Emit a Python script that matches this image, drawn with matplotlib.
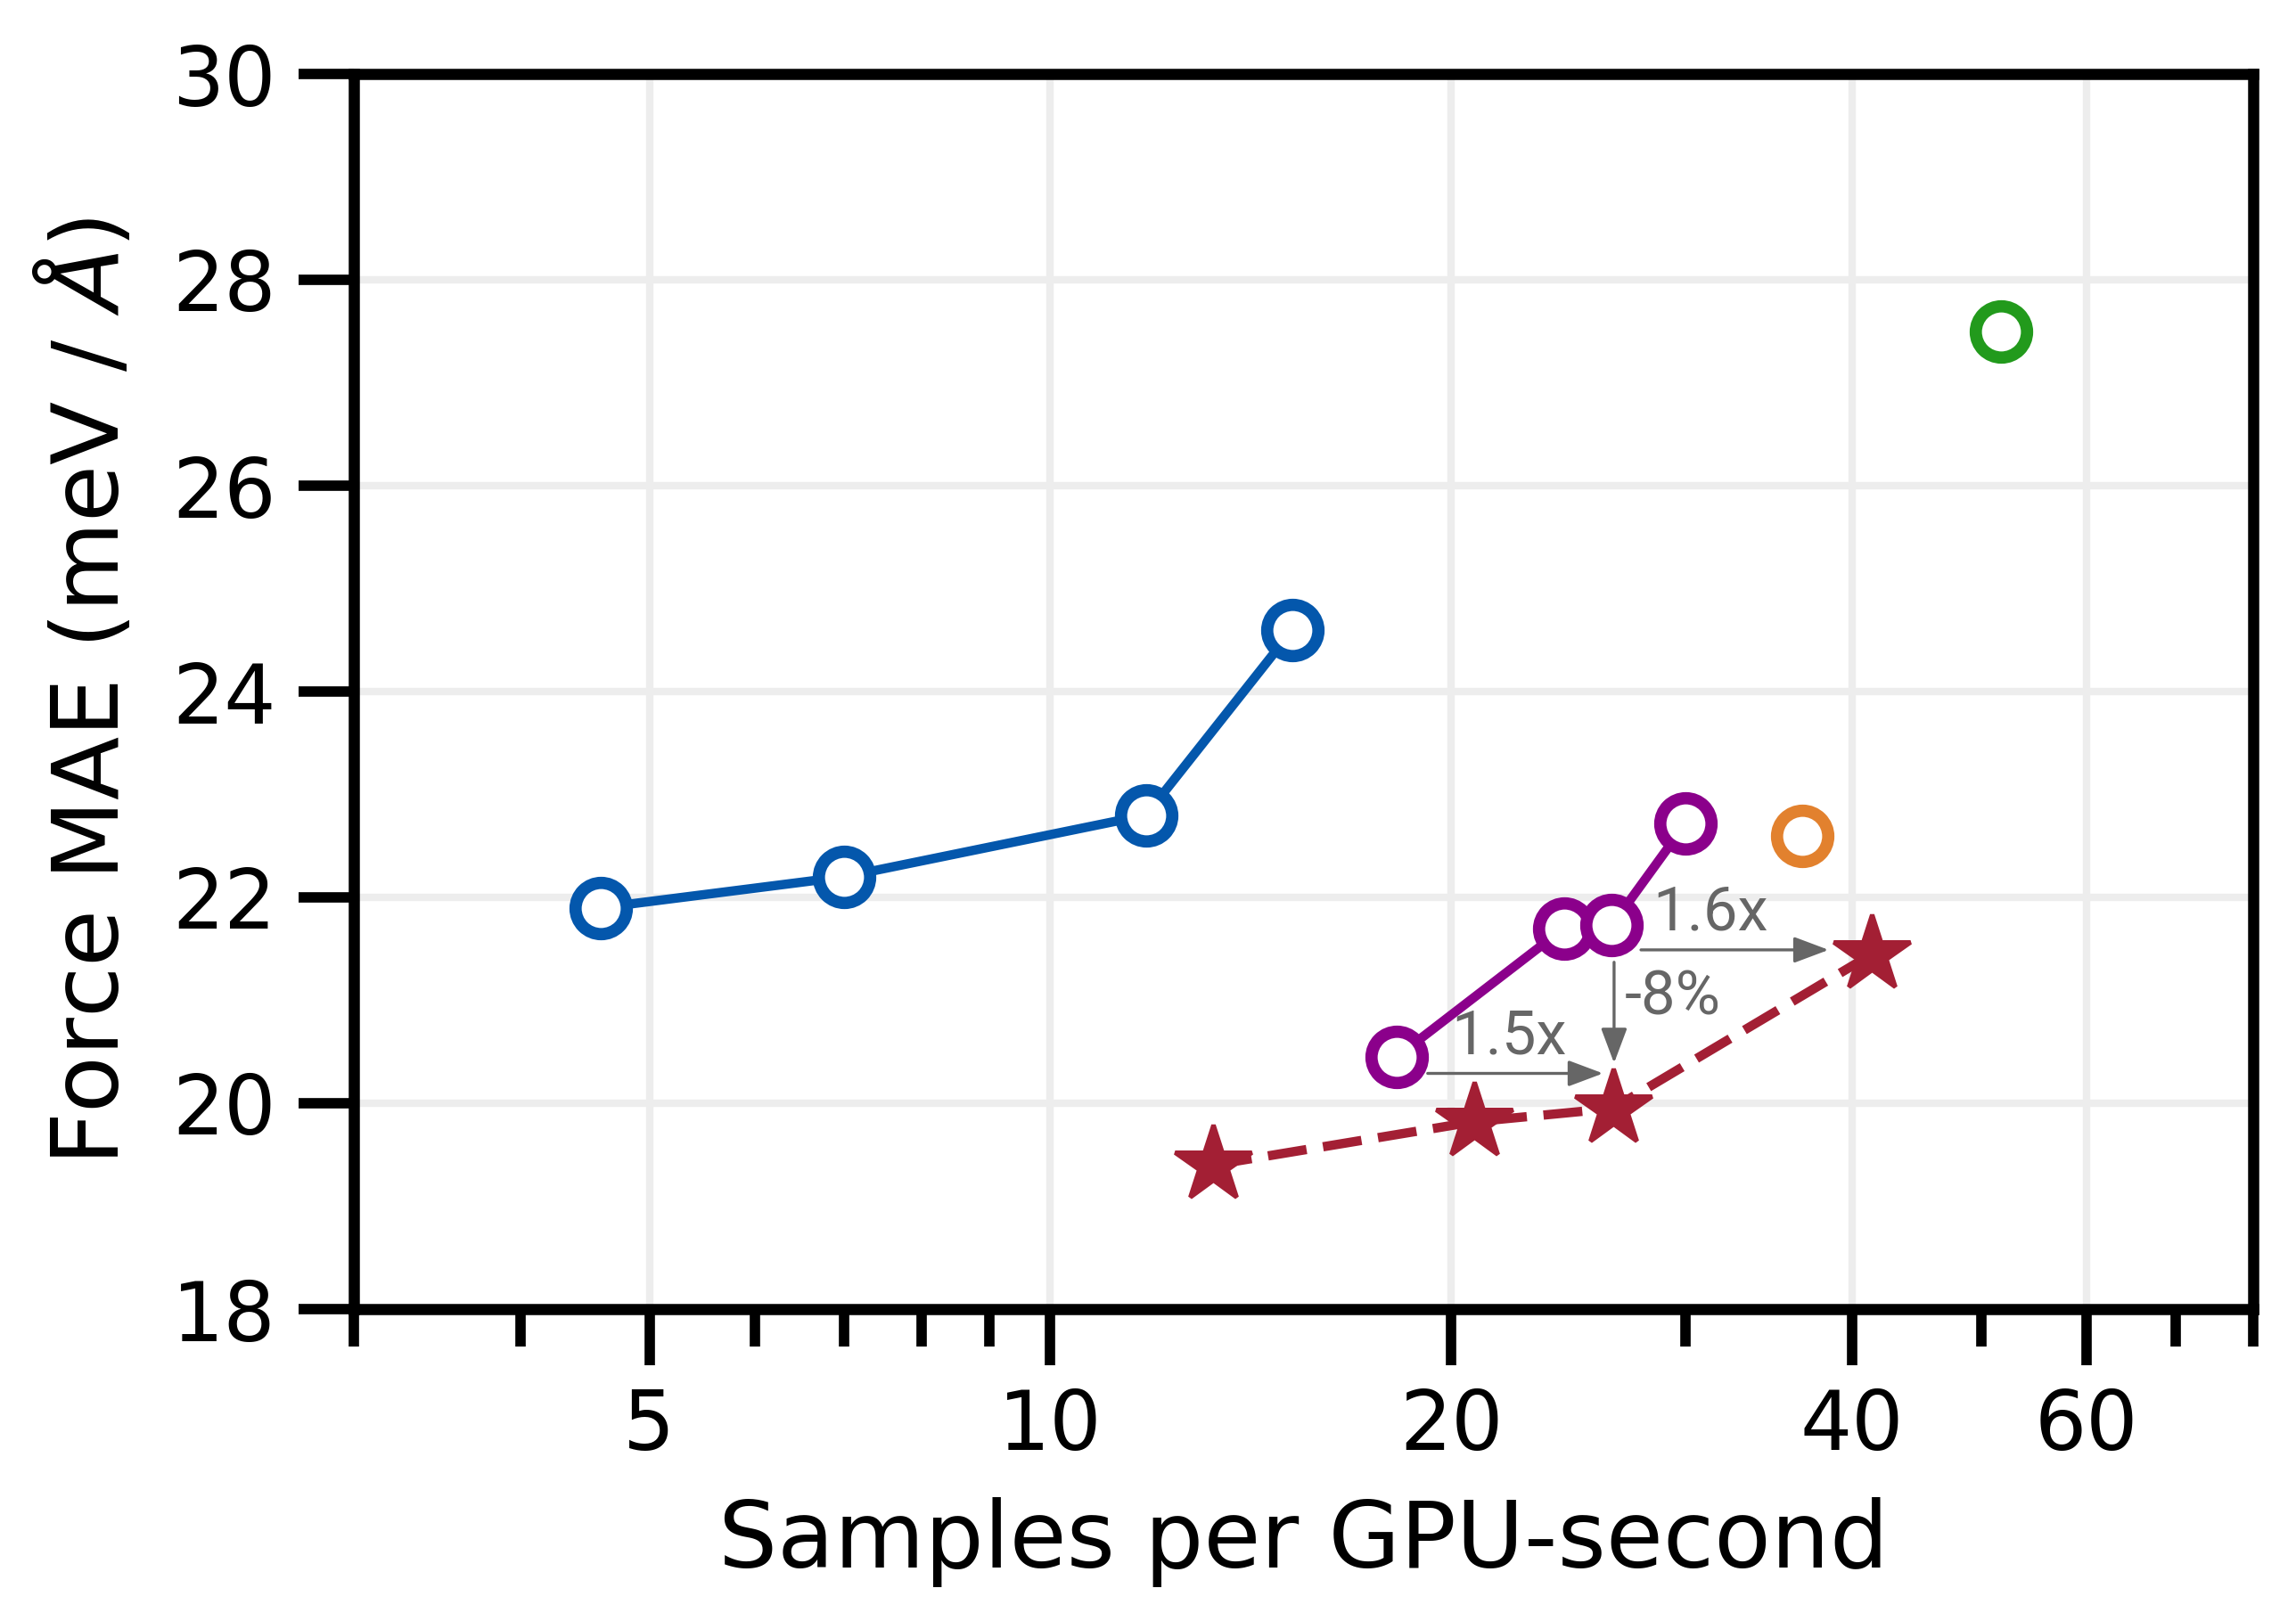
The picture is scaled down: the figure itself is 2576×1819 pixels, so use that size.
import matplotlib.pyplot as plt
from matplotlib.ticker import FixedLocator, NullFormatter

# data (x: samples per GPU-second, y: force MAE)
blue_x = [4.6, 7.0, 11.8, 15.2]
blue_y = [21.9, 22.2, 22.8, 24.6]
purple_x = [18.2, 24.3, 26.4, 30.0]
purple_y = [20.45, 21.7, 21.73, 22.72]
orange_x = [36.7]
orange_y = [22.6]
green_x = [51.7]
green_y = [27.5]
star_x = [13.25, 20.8, 26.45, 41.4]
star_y = [19.4, 19.82, 19.95, 21.45]

x_major = [5, 10, 20, 40, 60]
x_minor = [3, 4, 6, 7, 8, 9, 30, 50, 70, 80]
y_ticks = [18, 20, 22, 24, 26, 28, 30]

fig = plt.figure(figsize=(2576 / 300, 1819 / 300), dpi=300)
ax = fig.add_axes([397 / 2576, 1 - 1469 / 1819, (2528 - 397) / 2576, (1469 - 83) / 1819])

circ = dict(marker='o', ms=13.8, mew=3.3, mfc='white')
ax.plot(blue_x, blue_y, '-', color='#0457ac', lw=2.5, **circ, zorder=3)
ax.plot(purple_x, purple_y, '-', color='#8b008b', lw=2.5, **circ, zorder=3)
ax.plot(orange_x, orange_y, ls='none', color='#e2812e', **circ, zorder=3)
ax.plot(green_x, green_y, ls='none', color='#229a1c', **circ, zorder=3)
ax.plot(star_x, star_y, '--', color='#a31f34', lw=2.5, dashes=(4.2, 1.8),
        marker='*', ms=21.5, mew=1.2, zorder=3)

# speed-up / error annotations
grey = '#666666'
arrow = dict(arrowstyle='-|>,head_length=0.4,head_width=0.15', color=grey,
             lw=0.8, shrinkA=0, shrinkB=0, mutation_scale=20)
ax.annotate('', xy=(26.0, 20.29), xytext=(19.2, 20.29), arrowprops=arrow, zorder=4)
ax.annotate('', xy=(38.4, 21.49), xytext=(27.76, 21.49), arrowprops=arrow, zorder=4)
ax.annotate('', xy=(26.5, 20.39), xytext=(26.5, 21.37), arrowprops=arrow, zorder=4)
tfont = dict(family='Roboto', fontsize=16.5, color=grey)
ax.text(22.1, 20.36, '1.5x', ha='center', va='bottom', **tfont)
ax.text(31.3, 21.56, '1.6x', ha='center', va='bottom', **tfont)
ax.text(27.0, 21.03, '-8%', ha='left', va='center', **tfont)

ax.set_xscale('log')
ax.set_xlim(3, 80)
ax.set_ylim(18, 30)
ax.xaxis.set_major_locator(FixedLocator(x_major))
ax.xaxis.set_minor_locator(FixedLocator(x_minor))
ax.set_xticklabels([str(v) for v in x_major])
ax.xaxis.set_minor_formatter(NullFormatter())
ax.set_yticks(y_ticks)

ax.tick_params(which='major', length=15, width=2.8, labelsize=22, pad=6)
ax.tick_params(which='minor', length=10, width=2.8)
for s in ax.spines.values():
    s.set_linewidth(3)

ax.grid(True, which='major', color='#ededed', lw=2, zorder=0)
ax.set_axisbelow(True)

ax.set_xlabel('Samples per GPU-second', fontsize=25, labelpad=8)
ax.set_ylabel('Force MAE (meV / $\\mathit{Å}$)', fontsize=25, labelpad=9)

fig.savefig('out.png', dpi=300)
